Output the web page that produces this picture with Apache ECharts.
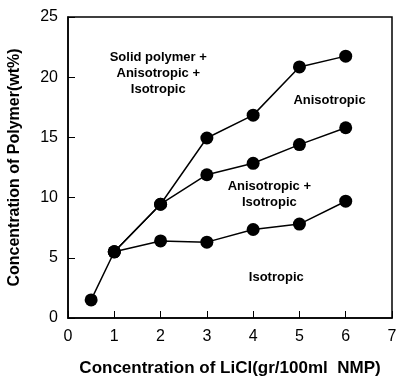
<!DOCTYPE html>
<html>
<head>
<meta charset="utf-8">
<script src="https://cdn.jsdelivr.net/npm/echarts@6/dist/echarts.min.js"></script>
<style>
  html, body { margin: 0; padding: 0; background: #fff; }
  #chart { width: 396px; height: 378px; }
</style>
</head>
<body>
<div id="chart"></div>
<script>
// LiCl concentration (gr/100ml NMP)
const liclLow = [0.5, 1, 2, 3, 4, 5, 6];
const liclHigh = [1, 2, 3, 4, 5, 6];

// Polymer concentration (wt%) at each phase boundary
const isotropicBoundary = [1.5, 5.5, 6.4, 6.3, 7.35, 7.8, 9.7];
const biphasicBoundary = [5.5, 9.45, 11.9, 12.85, 14.4, 15.8];
const solidBoundary = [5.5, 9.45, 14.95, 16.85, 20.85, 21.75];

// Axis ticks
const xTicks = [0, 1, 2, 3, 4, 5, 6, 7];
const yTicks = [0, 5, 10, 15, 20, 25];

// Phase region labels: [text lines, x, y] in data units
const regionLabels = [
  [['Solid polymer +', 'Anisotropic +', 'Isotropic'], 1.95, 20.3],
  [['Anisotropic'], 5.65, 18.1],
  [['Anisotropic +', 'Isotropic'], 4.35, 10.3],
  [['Isotropic'], 4.5, 3.35]
];

const pairs = (xs, ys) => xs.map((x, i) => [x, ys[i]]);

const FONT = '"Liberation Sans", Arial, sans-serif';

function lineSeries(data) {
  return {
    type: 'line',
    data: data,
    symbol: 'circle',
    symbolSize: 13,
    lineStyle: { color: '#000', width: 1.5 },
    itemStyle: { color: '#000' },
    animation: false,
    z: 3
  };
}

const chart = echarts.init(document.getElementById('chart'));
chart.setOption({
  animation: false,
  grid: {
    left: 68, right: 4, top: 17, bottom: 60,
    containLabel: false,
    outerBoundsMode: 'none',
    show: true, borderColor: '#000', borderWidth: 1.5,
    backgroundColor: 'transparent'
  },
  xAxis: {
    type: 'value',
    min: xTicks[0], max: xTicks[xTicks.length - 1], interval: 1,
    name: 'Concentration of LiCl(gr/100ml  NMP)',
    nameLocation: 'middle', nameGap: 42,
    nameTextStyle: { fontFamily: FONT, fontWeight: 'bold', fontSize: 17, color: '#000' },
    axisLine: { lineStyle: { color: '#000', width: 1.5 } },
    axisTick: { inside: true, length: 7, lineStyle: { color: '#000', width: 1 } },
    axisLabel: { fontFamily: FONT, fontSize: 16, color: '#000', margin: 11 },
    splitLine: { show: false }
  },
  yAxis: {
    type: 'value',
    min: yTicks[0], max: yTicks[yTicks.length - 1], interval: 5,
    name: 'Concentration of Polymer(wt%)',
    nameLocation: 'middle', nameGap: 45,
    nameTextStyle: { fontFamily: FONT, fontWeight: 'bold', fontSize: 16, color: '#000' },
    axisLine: { lineStyle: { color: '#000', width: 1.5 } },
    axisTick: { inside: true, length: 7, lineStyle: { color: '#000', width: 1 } },
    axisLabel: { fontFamily: FONT, fontSize: 16, color: '#000', margin: 10 },
    splitLine: { show: false }
  },
  series: [
    lineSeries(pairs(liclLow, isotropicBoundary)),
    lineSeries(pairs(liclHigh, biphasicBoundary)),
    lineSeries(pairs(liclHigh, solidBoundary))
  ]
});

// Region labels placed in data coordinates
chart.setOption({
  graphic: regionLabels.map(([lines, x, y]) => {
    const [px, py] = chart.convertToPixel({ gridIndex: 0 }, [x, y]);
    return {
      type: 'text',
      x: px, y: py,
      style: {
        text: lines.join('\n'),
        fontFamily: FONT, fontWeight: 'bold', fontSize: 13,
        lineHeight: 16, fill: '#000',
        align: 'center', verticalAlign: 'middle'
      },
      z: 10
    };
  })
});
</script>
</body>
</html>
